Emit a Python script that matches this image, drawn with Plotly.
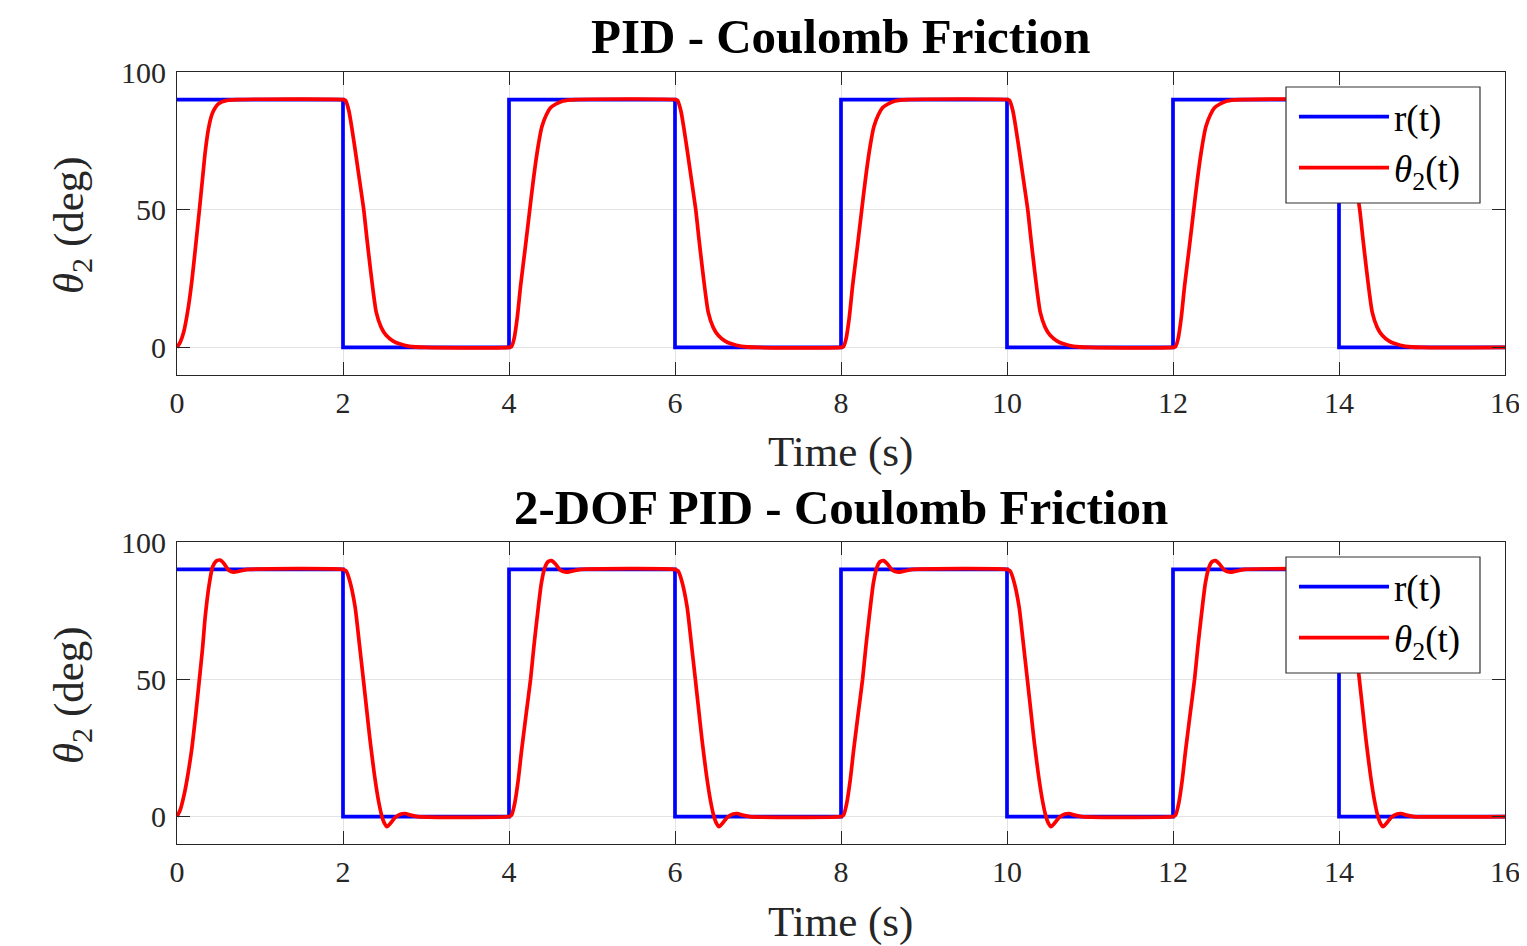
import plotly.graph_objects as go

# ---------------- data ----------------
ref_t = [0, 2, 4, 6, 8, 10, 12, 14, 16]
ref_v = [90, 0, 90, 0, 90, 0, 90, 0, 0]

rise_times = [0, 4, 8, 12]
fall_times = [2, 6, 10, 14]

# PID: first rise (from rest at t=0)
pid_rise0_tau = [0, 0.04, 0.08, 0.137, 0.18, 0.225, 0.27, 0.31, 0.34, 0.38, 0.42, 0.46, 0.5, 0.6, 0.72]
pid_rise0_val = [0, 2, 5.5, 14.7, 24.4, 37, 50, 62, 71, 79.5, 84.5, 87, 88.5, 89.7, 90]
# PID: later rises
pid_rise_tau = [0, 0.03, 0.06, 0.10, 0.14, 0.195, 0.25, 0.29, 0.34, 0.395, 0.45, 0.5, 0.56, 0.65, 0.8]
pid_rise_val = [0, 0.3, 3, 11, 22.5, 36, 50, 60, 71, 80, 84.5, 87, 88.3, 89.5, 90]
# PID: falls
pid_fall_tau = [0, 0.03, 0.07, 0.11, 0.15, 0.2, 0.25, 0.29, 0.33, 0.365, 0.40, 0.46, 0.52, 0.6, 0.68, 0.8, 1.0]
pid_fall_val = [90, 89.7, 86, 79, 71, 60.5, 50, 39, 28.6, 20, 12.8, 7.3, 4.4, 2.4, 1.3, 0.4, 0]

# 2-DOF PID: first rise
dof_rise0_tau = [0, 0.04, 0.09, 0.135, 0.177, 0.225, 0.27, 0.31, 0.34, 0.39, 0.43, 0.47, 0.52, 0.57, 0.62, 0.68, 0.75, 0.85]
dof_rise0_val = [0, 2.5, 8.5, 16, 24.4, 37, 50, 62, 72.8, 85, 91, 93, 93.4, 92, 89.8, 89, 89.4, 90]
# 2-DOF PID: later rises
dof_rise_tau = [0, 0.03, 0.07, 0.11, 0.153, 0.205, 0.26, 0.30, 0.34, 0.39, 0.43, 0.47, 0.51, 0.56, 0.62, 0.69, 0.76, 0.86]
dof_rise_val = [0, 0.5, 5, 13, 24.4, 37, 50, 62, 72.8, 85, 90.5, 92.8, 93.2, 92, 89.7, 89, 89.4, 90]
# 2-DOF PID: falls
dof_fall_tau = [0, 0.036, 0.08, 0.145, 0.195, 0.245, 0.285, 0.325, 0.375, 0.425, 0.465, 0.5, 0.53, 0.57, 0.63, 0.7, 0.75, 0.8, 0.9]
dof_fall_val = [90, 89.5, 86, 76.5, 63.5, 50, 39, 28, 16, 6.2, 0.5, -2.5, -3.7, -2.5, -0.3, 0.9, 1.1, 0.6, 0]

x_ticks = [0, 2, 4, 6, 8, 10, 12, 14, 16]
y_ticks = [0, 50, 100]
titles = ["PID - Coulomb Friction", "2-DOF PID - Coulomb Friction"]


def build(rise0_tau, rise0_val, rise_tau, rise_val, fall_tau, fall_val):
    t, v = [], []
    for k in range(4):
        r0 = rise_times[k]
        rt, rv = (rise0_tau, rise0_val) if k == 0 else (rise_tau, rise_val)
        t += [r0 + a for a in rt]
        v += rv
        f0 = fall_times[k]
        t += [f0 + a for a in fall_tau]
        v += fall_val
    t.append(16)
    v.append(0)
    return t, v


pid_t, pid_v = build(pid_rise0_tau, pid_rise0_val, pid_rise_tau, pid_rise_val, pid_fall_tau, pid_fall_val)
dof_t, dof_v = build(dof_rise0_tau, dof_rise0_val, dof_rise_tau, dof_rise_val, dof_fall_tau, dof_fall_val)

# ---------------- figure ----------------
OFF = 8                      # page body margin
W, H = 1527 - OFF, 946 - OFF
FONT = "Liberation Serif"
AX = "#262626"


def fx(px):
    return (px - OFF) / W


def fy(py):
    return 1 - (py - OFF) / H


fig = go.Figure()

series = [(pid_t, pid_v), (dof_t, dof_v)]
for i, (tt, vv) in enumerate(series):
    xa = "x" if i == 0 else "x2"
    ya = "y" if i == 0 else "y2"
    lg = "legend" if i == 0 else "legend2"
    fig.add_trace(go.Scatter(x=ref_t, y=ref_v, mode="lines", name="r(t)",
                             line=dict(color="#0000ff", width=3.7, shape="hv"),
                             xaxis=xa, yaxis=ya, legend=lg))
    fig.add_trace(go.Scatter(x=tt, y=vv, mode="lines", name="<i>θ</i><sub>2</sub>(t)",
                             line=dict(color="#ff0000", width=3.7, shape="spline", smoothing=0.6),
                             xaxis=xa, yaxis=ya, legend=lg))

xdom = [fx(177), fx(1505)]
ydoms = [[fy(375), fy(72)], [fy(844), fy(542)]]

axis_common = dict(showline=True, linecolor=AX, linewidth=1.2, mirror="ticks",
                   ticks="inside", ticklen=13, tickwidth=1.2, tickcolor=AX,
                   showgrid=True, gridcolor="#e3e3e3", gridwidth=1, zeroline=False,
                   automargin=False,
                   tickfont=dict(family=FONT, size=30, color=AX))

layout = dict(width=W, height=H, autosize=False, margin=dict(l=0, r=0, t=0, b=0, pad=0),
              plot_bgcolor="white", paper_bgcolor="white", template="none",
              font=dict(family=FONT, color="black"))

for i in range(2):
    sx = "" if i == 0 else "2"
    layout["xaxis" + sx] = dict(domain=xdom, range=[0, 16], tickvals=x_ticks,
                                anchor="y" + sx, ticklabelstandoff=1, **axis_common)
    layout["yaxis" + sx] = dict(domain=ydoms[i], range=[-10, 100], tickvals=y_ticks,
                                anchor="x" + sx, ticklabelstandoff=4, **axis_common)

legend_style = dict(x=fx(1294), xanchor="left", bgcolor="rgba(0,0,0,0)",
                    borderwidth=0, font=dict(family=FONT, size=37, color="black"),
                    itemwidth=90, tracegroupgap=0)
layout["legend"] = dict(y=fy(86), yanchor="top", **legend_style)
layout["legend2"] = dict(y=fy(556), yanchor="top", **legend_style)

fig.update_layout(**layout)

# legend frames (white box with dark border, above the curves)
shapes = []
for i in range(2):
    off = 470 * i
    shapes.append(dict(type="rect", xref="paper", yref="paper",
                       x0=fx(1286), x1=fx(1480), y0=fy(203 + off), y1=fy(87 + off),
                       fillcolor="white", line=dict(color="#333333", width=1.2), layer="above"))
fig.update_layout(shapes=shapes)

ann = []
for i in range(2):
    off = 470 * i
    ann.append(dict(text="<b>" + titles[i] + "</b>", x=fx(841), y=fy(37 + off),
                    xref="paper", yref="paper", showarrow=False,
                    font=dict(family=FONT, size=49, color="black"), xanchor="center", yanchor="middle"))
    ann.append(dict(text="Time (s)", x=fx(841), y=fy(452 + off),
                    xref="paper", yref="paper", showarrow=False,
                    font=dict(family=FONT, size=43, color=AX), xanchor="center", yanchor="middle"))
    ann.append(dict(text="<i>θ</i><sub>2</sub> (deg)", x=fx(72), y=fy(225 + off),
                    xref="paper", yref="paper", showarrow=False, textangle=-90,
                    font=dict(family=FONT, size=43, color=AX), xanchor="center", yanchor="middle"))
fig.update_layout(annotations=ann)

fig.write_html("out.html")
